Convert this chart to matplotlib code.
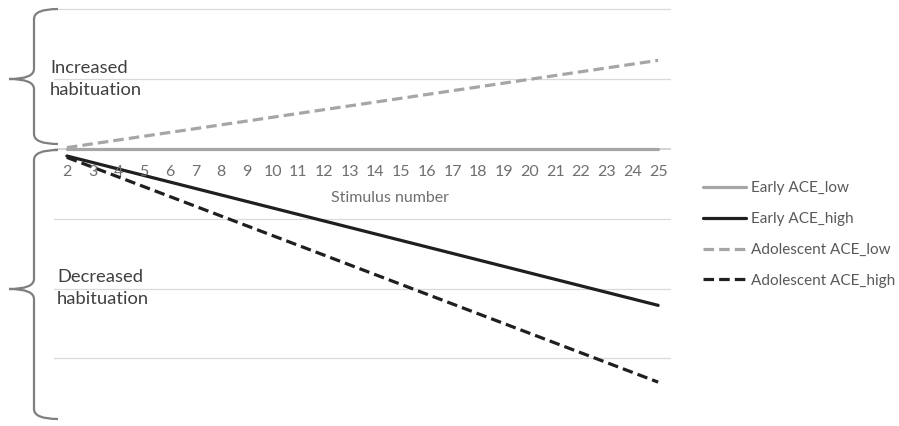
import numpy as np
import matplotlib.pyplot as plt
from matplotlib.path import Path
from matplotlib.patches import PathPatch

plt.rcParams['font.family'] = ['Lato', 'DejaVu Sans']

# stimulus categories shown on the x axis
stimulus = list(range(2, 26))

# the fitted lines are straight: values read at the first and last stimulus
ends = [2, 25]
early_low = [0.0, 0.0]
early_high = [-0.10, -2.24]
adol_low = [0.02, 1.27]
adol_high = [-0.12, -3.34]

W, H = 899, 426
fig = plt.figure(figsize=(W / 100, H / 100), dpi=100)

def fx(px):
    return px / W

def fy(py):
    return (H - py) / H

unit = 69.8
ytop, ybot = 2.02, -3.95
ax = fig.add_axes([fx(54), fy(149 + unit * -ybot), fx(671) - fx(54), (unit * (ytop - ybot)) / H])
ax.set_xlim(1.5, 25.5)
ax.set_ylim(ybot, ytop)

for v in [2, 1, -1, -2, -3]:
    ax.axhline(v, color='#d9d9d9', lw=0.9, zorder=0)
ax.axhline(0, color='#d0d0d0', lw=1.3, zorder=0)

ax.plot(ends, early_low, color='#a6a6a6', lw=2.3, solid_capstyle='round', label='Early ACE_low')
ax.plot(ends, early_high, color='#1f1f1f', lw=2.3, solid_capstyle='round', label='Early ACE_high')
ax.plot(ends, adol_low, color='#a6a6a6', lw=2.3, dashes=(3.3, 1.6), label='Adolescent ACE_low')
ax.plot(ends, adol_high, color='#1f1f1f', lw=2.3, dashes=(3.3, 1.6), label='Adolescent ACE_high')

for s in ax.spines.values():
    s.set_visible(False)
ax.set_xticks([])
ax.set_yticks([])

# category labels sit just under the zero line
for s in stimulus:
    ax.text(s, -0.33, str(s), ha='center', va='center', fontsize=11.5, color='#6f6f6f')

ax.text(14.57, -0.70, 'Stimulus number', ha='center', va='center', fontsize=11.5, color='#6f6f6f')

# curly brackets on the left
def brace(top, tip, bot):
    xv, xe, xt = 34, 58, 9
    r = 10
    verts = [(xe, top), (xv, top), (xv, top + r),
             (xv, tip - r), (xv, tip), (xt, tip),
             (xv, tip), (xv, tip + r),
             (xv, bot - r), (xv, bot), (xe, bot)]
    codes = [Path.MOVETO, Path.CURVE3, Path.CURVE3,
             Path.LINETO, Path.CURVE3, Path.CURVE3,
             Path.CURVE3, Path.CURVE3,
             Path.LINETO, Path.CURVE3, Path.CURVE3]
    verts = [(fx(a), fy(b)) for a, b in verts]
    fig.add_artist(PathPatch(Path(verts, codes), fill=False, edgecolor='#7f7f7f',
                             lw=1.6, transform=fig.transFigure))

brace(9, 79, 144)
brace(150, 289, 419)

fig.text(fx(50), fy(79), 'Increased\nhabituation', ha='left', va='center',
         fontsize=13.2, color='#404040', linespacing=1.4)
fig.text(fx(57), fy(288), 'Decreased\nhabituation', ha='left', va='center',
         fontsize=13.2, color='#404040', linespacing=1.4)

fig.legend(loc='center left', bbox_to_anchor=(fx(703), fy(234.5)), frameon=False,
           fontsize=11, handlelength=2.8, handletextpad=0.35, labelspacing=1.1,
           borderpad=0, borderaxespad=0, labelcolor='#595959')

fig.savefig('out.png', dpi=100)
